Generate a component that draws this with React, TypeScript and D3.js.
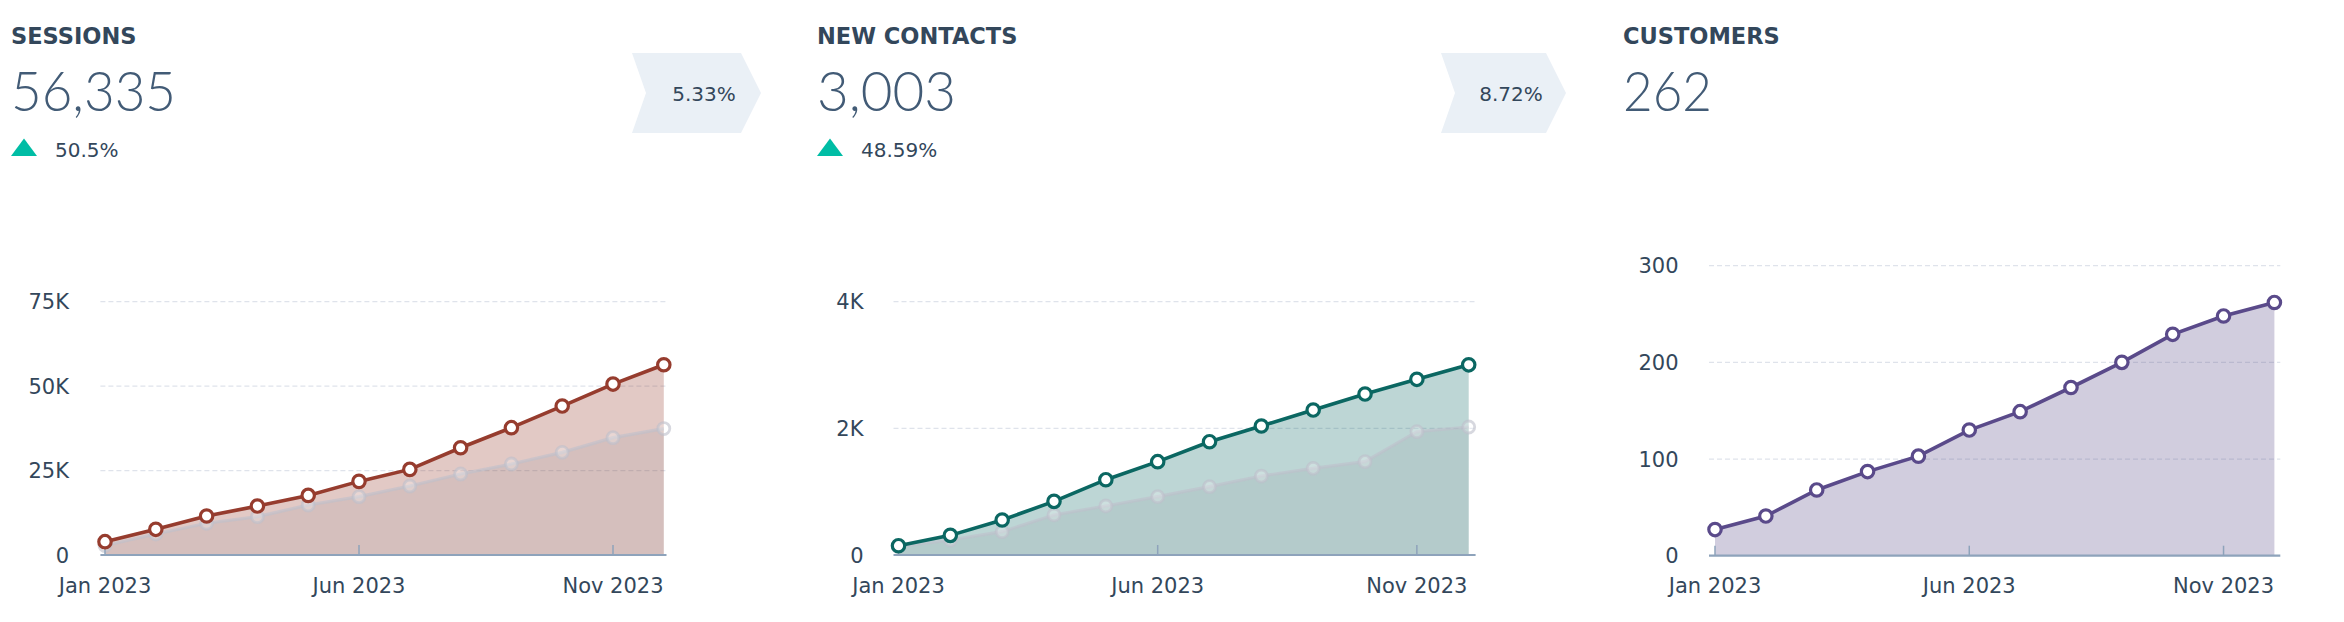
import React from "react";
import * as d3 from "d3";

// ---- Data ----
const months = ["Jan", "Feb", "Mar", "Apr", "May", "Jun", "Jul", "Aug", "Sep", "Oct", "Nov", "Dec"];
const xTickMonths = ["Jan", "Jun", "Nov"];
const xTickLabels = ["Jan 2023", "Jun 2023", "Nov 2023"];

const sessionsCurrent = [3950, 7600, 11550, 14500, 17650, 21800, 25350, 31750, 37700, 44100, 50600, 56335];
const sessionsPrevious = [2800, 6200, 9400, 11350, 14800, 17270, 20430, 23980, 26940, 30390, 34740, 37430];
const contactsCurrent = [147, 310, 553, 847, 1189, 1474, 1789, 2037, 2289, 2542, 2774, 3003];
const contactsPrevious = [130, 237, 368, 632, 774, 921, 1079, 1247, 1368, 1474, 1947, 2021];
const customersCurrent = [27, 41, 68, 87, 103, 130, 149, 174, 200, 229, 248, 262];

const sessionsTicks = [0, 25000, 50000, 75000];
const contactsTicks = [0, 2000, 4000];
const customersTicks = [0, 100, 200, 300];

const titles = ["SESSIONS", "NEW CONTACTS", "CUSTOMERS"];
const totals = ["56,335", "3,003", "262"];
const changes = ["50.5%", "48.59%", null];
const conversions = ["5.33%", "8.72%"];

const NUMFONT = "Lato, 'Open Sans', sans-serif";
const FONT = "'DejaVu Sans', Lato, sans-serif";
const TEXT = "#33475b";
const NUM = "#425b76";

const kFmt = (v: number) => (v === 0 ? "0" : d3.format("~s")(v).toUpperCase());

type Panel = {
  title: string;
  total: string;
  change: string | null;
  x0: number;
  numWidth: number;
  current: number[];
  previous: number[] | null;
  ticks: number[];
  fmt: (v: number) => string;
  xRange: [number, number];
  gridRange: [number, number];
  yRange: [number, number];
  yLabelX: number;
  color: string;
  fill: string;
};

const panels: Panel[] = [
  {
    title: titles[0], total: totals[0], change: changes[0], x0: 11, numWidth: 165,
    current: sessionsCurrent, previous: sessionsPrevious, ticks: sessionsTicks, fmt: kFmt,
    xRange: [105, 663.8], gridRange: [100.4, 666.5], yRange: [555, 301.7], yLabelX: 69,
    color: "#963c2e", fill: "rgba(150,60,46,0.28)",
  },
  {
    title: titles[1], total: totals[1], change: changes[1], x0: 817, numWidth: 139,
    current: contactsCurrent, previous: contactsPrevious, ticks: contactsTicks, fmt: kFmt,
    xRange: [898.5, 1468.7], gridRange: [893.5, 1475.6], yRange: [555, 301.7], yLabelX: 863.5,
    color: "#0b6762", fill: "rgba(11,103,98,0.27)",
  },
  {
    title: titles[2], total: totals[2], change: changes[2], x0: 1623, numWidth: 89,
    current: customersCurrent, previous: null, ticks: customersTicks, fmt: (v) => String(v),
    xRange: [1715, 2274.4], gridRange: [1709, 2280.3], yRange: [555.7, 265.7], yLabelX: 1678.5,
    color: "#5a4a8a", fill: "rgba(90,74,138,0.28)",
  },
];

const badges = [
  { text: conversions[0], x: 632, w: 129, tx: 72 },
  { text: conversions[1], x: 1441, w: 125, tx: 70 },
];

function Chart({ p }: { p: Panel }) {
  const x = d3.scalePoint<string>().domain(months).range(p.xRange);
  const y = d3.scaleLinear().domain([0, p.ticks[p.ticks.length - 1]]).range(p.yRange);
  const line = d3.line<number>().x((_, i) => x(months[i])!).y((d) => y(d));
  const area = d3.area<number>().x((_, i) => x(months[i])!).y0(y(0)).y1((d) => y(d));
  const base = y(0);
  return (
    <g>
      {p.ticks.filter((t) => t > 0).map((t) => (
        <line key={t} x1={p.gridRange[0]} x2={p.gridRange[1]} y1={y(t)} y2={y(t)}
          stroke="#dfe3eb" strokeWidth={1.3} strokeDasharray="5 3" />
      ))}
      {p.ticks.map((t) => (
        <text key={t} x={p.yLabelX} y={y(t)} dy="0.36em" textAnchor="end"
          fontFamily={FONT} fontSize={21} fill={TEXT}>{p.fmt(t)}</text>
      ))}
      <path d={area(p.current)!} fill={p.fill} />
      {p.previous && (
        <g>
          <path d={area(p.previous)!} fill="rgba(90,95,110,0.09)" />
          <path d={line(p.previous)!} fill="none" stroke="rgba(190,192,204,0.62)" strokeWidth={3.2} />
          {p.previous.map((v, i) => (
            <circle key={i} cx={x(months[i])} cy={y(v)} r={6}
              fill="rgba(255,255,255,0.25)" stroke="rgba(190,192,204,0.62)" strokeWidth={2.8} />
          ))}
        </g>
      )}
      <line x1={p.gridRange[0]} x2={p.gridRange[1]} y1={base} y2={base} stroke="#8ea3bb" strokeWidth={2.2} />
      {xTickMonths.map((m) => (
        <line key={m} x1={x(m)} x2={x(m)} y1={base} y2={base - 10} stroke="#8ea3bb" strokeWidth={1.5} />
      ))}
      {xTickMonths.map((m, i) => (
        <text key={m} x={x(m)} y={593} textAnchor="middle" fontFamily={FONT} fontSize={21} fill={TEXT}>
          {xTickLabels[i]}
        </text>
      ))}
      <path d={line(p.current)!} fill="none" stroke={p.color} strokeWidth={3.6} />
      {p.current.map((v, i) => (
        <circle key={i} cx={x(months[i])} cy={y(v)} r={6.2} fill="#fff" stroke={p.color} strokeWidth={3.2} />
      ))}
    </g>
  );
}

export default function App() {
  return (
    <svg width={2344} height={622} style={{ position: "absolute", left: 0, top: 0, display: "block" }}>
      <rect width={2344} height={622} fill="#fff" />
      {badges.map((b, i) => {
        const tip = 20;
        const notch = 14;
        const pts = [
          [b.x, 53], [b.x + b.w - tip, 53], [b.x + b.w, 93], [b.x + b.w - tip, 133], [b.x, 133], [b.x + notch, 93],
        ].map((q) => q.join(",")).join(" ");
        return (
          <g key={i}>
            <polygon points={pts} fill="#eaf0f6" />
            <text x={b.x + b.tx} y={101} textAnchor="middle" fontFamily={FONT} fontSize={20} fill={TEXT}>
              {b.text}
            </text>
          </g>
        );
      })}
      {panels.map((p, i) => (
        <g key={i}>
          <text x={p.x0} y={43.5} fontFamily={FONT} fontWeight={700} fontSize={22.5} fill={TEXT}>
            {p.title}
          </text>
          <text x={p.x0} y={110.5} fontFamily={NUMFONT} fontWeight={300} fontSize={55} fill={NUM}
            textLength={p.numWidth} lengthAdjust="spacingAndGlyphs">
            {p.total}
          </text>
          {p.change && (
            <g>
              <path d={`M${p.x0},156 L${p.x0 + 26},156 L${p.x0 + 13},138.5 Z`} fill="#00bda5" />
              <text x={p.x0 + 44} y={156.5} fontFamily={FONT} fontSize={20} fill={TEXT}>{p.change}</text>
            </g>
          )}
          <Chart p={p} />
        </g>
      ))}
    </svg>
  );
}
